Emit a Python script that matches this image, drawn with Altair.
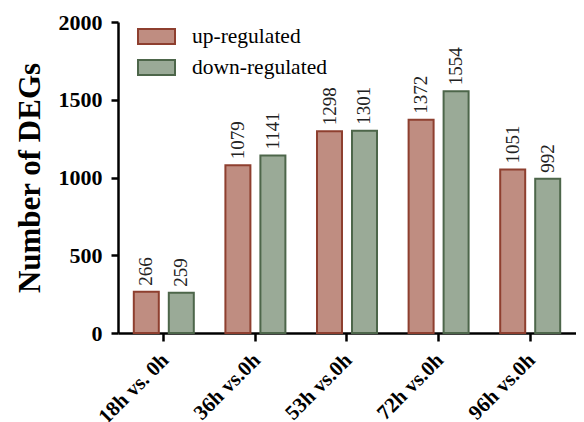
import altair as alt
import pandas as pd

categories = ["18h vs. 0h", "36h vs.0h", "53h vs.0h", "72h vs.0h", "96h vs.0h"]
series = ["up-regulated", "down-regulated"]
up_values = [266, 1079, 1298, 1372, 1051]
down_values = [259, 1141, 1301, 1554, 992]

rows = []
for c, u, d in zip(categories, up_values, down_values):
    rows.append({"cat": c, "series": series[0], "value": u})
    rows.append({"cat": c, "series": series[1], "value": d})
df = pd.DataFrame(rows)

FONT = "Liberation Serif"
stroke_scale = alt.Scale(domain=series, range=["#8e3f2f", "#4d664a"])
fill_scale = alt.Scale(domain=series, range=["#bf8d81", "#9aaa97"])

x = alt.X("cat:N", sort=categories, title=None,
          scale=alt.Scale(paddingInner=0.345, paddingOuter=0.1725),
          axis=alt.Axis(labelAngle=-45, labelAlign="right", labelBaseline="top",
                        labelFont=FONT, labelFontSize=21, labelFontWeight="bold",
                        labelColor="black", labelPadding=8, labelOffset=-6,
                        domainColor="black", domainWidth=2.5,
                        tickColor="black", tickWidth=2.5, tickSize=8))
xo = alt.XOffset("series:N", sort=series,
                 scale=alt.Scale(paddingInner=0.2857, paddingOuter=0))
y = alt.Y("value:Q", title="Number of DEGs",
          scale=alt.Scale(domain=[0, 2000], nice=False),
          axis=alt.Axis(values=[0, 500, 1000, 1500, 2000], grid=False, format="d",
                        labelFont=FONT, labelFontSize=22, labelFontWeight="bold",
                        labelColor="black", labelPadding=9,
                        titleFont=FONT, titleFontSize=31, titleFontWeight="bold",
                        titleColor="black", titlePadding=12,
                        domainColor="black", domainWidth=2.5,
                        tickColor="black", tickWidth=2.5, tickSize=7))

bars = alt.Chart(df).mark_bar(strokeWidth=2).encode(
    x=x, xOffset=xo, y=y,
    fill=alt.Fill("series:N", scale=fill_scale, sort=series,
                  legend=alt.Legend(title=None, orient="none", legendX=19, legendY=-5,
                                    symbolType="M-1,-0.4H1V0.4H-1Z", symbolSize=1369,
                                    symbolStrokeWidth=2, symbolStrokeColor="#6a5a50",
                                    labelFont=FONT, labelFontSize=21.5, labelColor="black",
                                    labelOffset=16, rowPadding=-7, padding=0)),
    stroke=alt.Stroke("series:N", scale=stroke_scale, sort=series, legend=None),
)

labels = alt.Chart(df).mark_text(angle=270, align="left", baseline="middle", dx=6,
                                 font=FONT, fontSize=19, color="#222").encode(
    x=alt.X("cat:N", sort=categories), xOffset=alt.XOffset("series:N", sort=series),
    y="value:Q", text="value:Q")

chart = alt.layer(bars, labels).properties(
    width=458, height=311,
    autosize=alt.AutoSizeParams(type="none"),
    padding={"left": 110, "top": 14, "right": 0, "bottom": 89},
).configure_view(stroke=None)

chart.save("out.html", embed_options={"renderer": "svg", "actions": False})
